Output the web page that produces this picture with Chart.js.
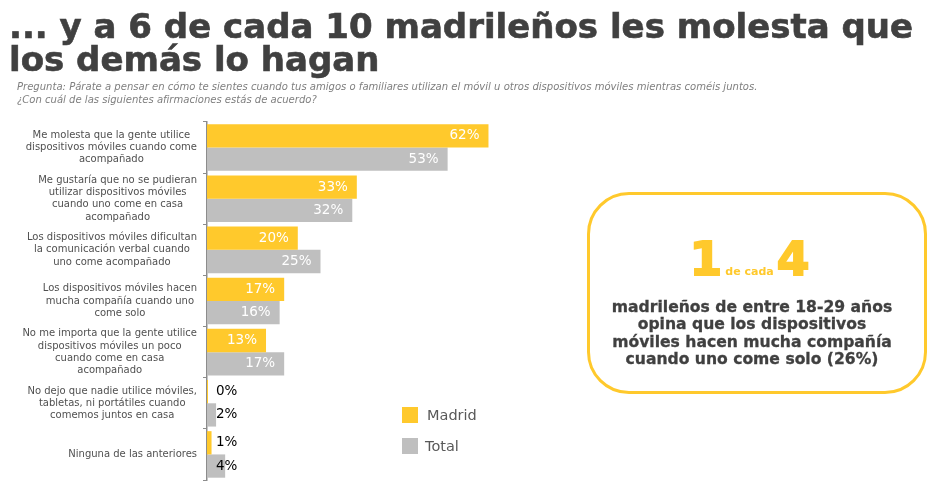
<!DOCTYPE html>
<html lang="es">
<head>
<meta charset="utf-8">
<title>Madrid</title>
<script src="https://cdn.jsdelivr.net/npm/chart.js@4"></script>
<style>
  html, body { margin: 0; padding: 0; background: #fff; }
  body { width: 940px; height: 490px; position: relative; overflow: hidden; font-family: "DejaVu Sans", sans-serif; }
  canvas { position: absolute; left: 0; top: 0; }
  .abs { position: absolute; white-space: nowrap; }
  #title { left: 9px; top: 10px; font-size: 34px; line-height: 33px; font-weight: bold; color: #404040; -webkit-text-stroke: 0.6px #404040; }
  #pregunta { left: 17px; top: 80px; font-size: 10.05px; line-height: 13px; font-style: italic; color: #7f7f7f; }
  #box { left: 587px; top: 192px; width: 334px; height: 196px; border: 3px solid #ffc92c; border-radius: 42px; }
  #cifra { left: 587px; width: 325px; top: 231px; height: 60px; text-align: center; color: #ffc92c; font-weight: bold; }
  #cifra b { font-size: 47px; -webkit-text-stroke: 2px #ffc92c; }
  #cifra span { font-size: 11px; margin: 0 3px; }
  #texto { left: 587px; width: 330px; top: 299px; text-align: center; font-size: 15.6px; line-height: 17.3px; font-weight: bold; color: #404040; -webkit-text-stroke: 0.3px #404040; }
  .leg { left: 402px; width: 16px; height: 16px; }
  .legtxt { font-size: 14.5px; color: #595959; line-height: 16px; }
</style>
</head>
<body>
<canvas id="madridChart" width="940" height="490"></canvas>
<div class="abs" id="title">... y a 6 de cada 10 madrileños les molesta que<br>los demás lo hagan</div>
<div class="abs" id="pregunta">Pregunta: Párate a pensar en cómo te sientes cuando tus amigos o familiares utilizan el móvil u otros dispositivos móviles mientras coméis juntos.<br>¿Con cuál de las siguientes afirmaciones estás de acuerdo?</div>
<div class="abs" id="box"></div>
<div class="abs" id="cifra"><b>1</b><span>de cada</span><b>4</b></div>
<div class="abs" id="texto">madrileños de entre 18-29 años<br>opina que los dispositivos<br>móviles hacen mucha compañía<br>cuando uno come solo (26%)</div>
<div class="abs leg" style="top:407px;background:#ffc92c"></div>
<div class="abs legtxt" style="left:427px;top:407px">Madrid</div>
<div class="abs leg" style="top:438px;background:#bfbfbf"></div>
<div class="abs legtxt" style="left:425px;top:438px">Total</div>
<script>
const categorias = [
  ['Me molesta que la gente utilice', 'dispositivos móviles cuando come', 'acompañado'],
  ['Me gustaría que no se pudieran', 'utilizar dispositivos móviles', 'cuando uno come en casa', 'acompañado'],
  ['Los dispositivos móviles dificultan', 'la comunicación verbal cuando', 'uno come acompañado'],
  ['Los dispositivos móviles hacen', 'mucha compañía cuando uno', 'come solo'],
  ['No me importa que la gente utilice', 'dispositivos móviles un poco', 'cuando come en casa', 'acompañado'],
  ['No dejo que nadie utilice móviles,', 'tabletas, ni portátiles cuando', 'comemos juntos en casa'],
  ['Ninguna de las anteriores']
];
const madrid = [62, 33, 20, 17, 13, 0, 1];
const total = [53, 32, 25, 16, 17, 2, 4];

// etiquetas del eje: cada bloque centrado, con el borde derecho junto al eje
const etiquetasEje = {
  id: 'etiquetasEje',
  afterDraw(chart) {
    const c = chart.ctx;
    const y = chart.scales.y;
    c.save();
    c.font = '10px "DejaVu Sans"';
    c.fillStyle = '#505050';
    c.textAlign = 'center';
    c.textBaseline = 'middle';
    categorias.forEach((lineas, i) => {
      const ancho = Math.max(...lineas.map(l => c.measureText(l).width));
      const cx = 197 - ancho / 2;
      const cy = y.getPixelForTick(i);
      lineas.forEach((l, j) => {
        c.fillText(l, cx, cy + (j - (lineas.length - 1) / 2) * 12.2);
      });
    });
    c.restore();
  }
};

// porcentajes: blancos dentro de la barra, negros junto al eje en las pequeñas
const porcentajes = {
  id: 'porcentajes',
  afterDatasetsDraw(chart) {
    const c = chart.ctx;
    c.save();
    c.font = '13.5px "DejaVu Sans"';
    c.textBaseline = 'middle';
    chart.data.datasets.forEach((ds, d) => {
      chart.getDatasetMeta(d).data.forEach((bar, i) => {
        const v = ds.data[i];
        if (v >= 10) {
          c.fillStyle = '#fff';
          c.textAlign = 'right';
          c.fillText(v + '%', bar.x - 9, bar.y);
        } else {
          c.fillStyle = '#000';
          c.textAlign = 'left';
          c.fillText(v + '%', chart.chartArea.left + 9, bar.y);
        }
      });
    });
    c.restore();
  }
};

const madridCtx = document.getElementById('madridChart').getContext('2d');
const madridChart = new Chart(madridCtx, {
  type: 'bar',
  data: {
    labels: categorias,
    datasets: [
      { label: 'Madrid', data: madrid, backgroundColor: '#ffc92c', minBarLength: 1 },
      { label: 'Total', data: total, backgroundColor: '#bfbfbf' }
    ]
  },
  options: {
    indexAxis: 'y',
    responsive: false,
    animation: false,
    categoryPercentage: 0.91,
    barPercentage: 1,
    layout: { padding: { top: 122, bottom: 10, right: 279 } },
    scales: {
      x: { display: false, min: 0, max: 100 },
      y: {
        afterFit(scale) { scale.width = 207; },
        ticks: { display: false },
        border: { color: '#8c8c8c', width: 1.5 },
        grid: { drawOnChartArea: false, drawTicks: true, tickLength: 4, color: '#8c8c8c' }
      }
    },
    plugins: {
      legend: { display: false },
      tooltip: { enabled: false }
    }
  },
  plugins: [etiquetasEje, porcentajes]
});
</script>
</body>
</html>
